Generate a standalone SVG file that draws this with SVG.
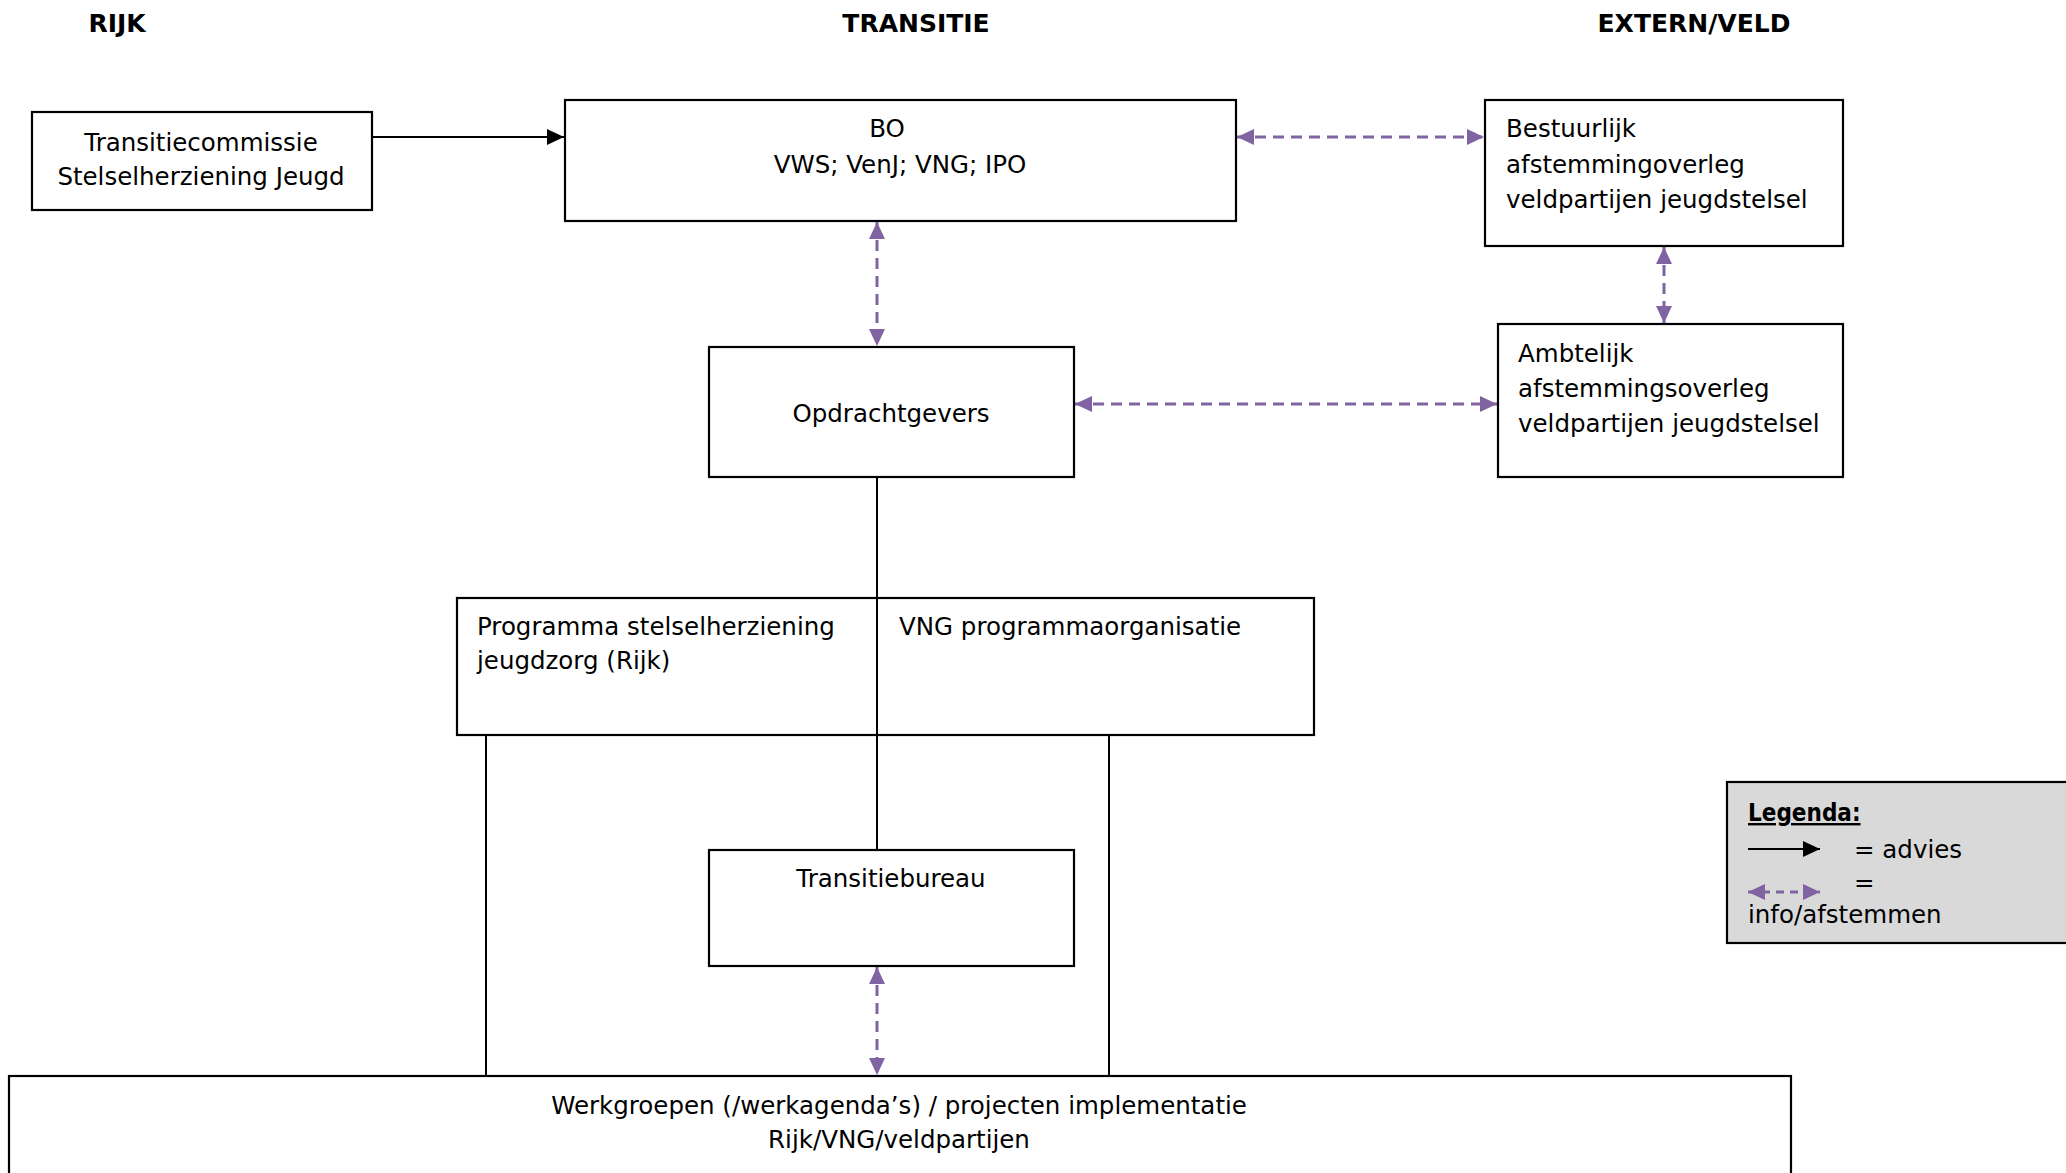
<svg xmlns="http://www.w3.org/2000/svg" width="2066" height="1173" viewBox="0 0 2066 1173">
<style>
.box{fill:#ffffff;stroke:#000000;stroke-width:2.2}
.t{font-family:"DejaVu Sans","Liberation Sans",sans-serif;font-size:24.5px;fill:#000000}
.c{text-anchor:middle}
.h{font-family:"DejaVu Sans","Liberation Sans",sans-serif;font-size:25px;font-weight:bold;fill:#000000;text-anchor:middle}
.solid{stroke:#000000;stroke-width:2;fill:none}
.dash{stroke:#8064a2;stroke-width:3;stroke-dasharray:11 7;fill:none}
</style>
<defs>
<marker id="ab" markerUnits="userSpaceOnUse" markerWidth="18" markerHeight="16" refX="17" refY="8" orient="auto">
<path d="M0,0 L17,8 L0,16 z" fill="#000000"/>
</marker>
<marker id="ap" markerUnits="userSpaceOnUse" markerWidth="18" markerHeight="16" refX="17" refY="8" orient="auto-start-reverse">
<path d="M0,0 L17,8 L0,16 z" fill="#8064a2"/>
</marker>
</defs>
<rect width="2066" height="1173" fill="#ffffff"/>
<g id="headers">
<text class="h" x="117" y="32">RIJK</text>
<text class="h" x="916" y="32">TRANSITIE</text>
<text class="h" x="1694" y="32">EXTERN/VELD</text>
</g>
<g id="connectors">
<line class="solid" x1="372" y1="137" x2="564" y2="137" marker-end="url(#ab)"/>
<line class="dash" x1="1237" y1="137" x2="1484" y2="137" marker-start="url(#ap)" marker-end="url(#ap)"/>
<line class="dash" x1="877" y1="222" x2="877" y2="346" marker-start="url(#ap)" marker-end="url(#ap)"/>
<line class="dash" x1="1664" y1="247" x2="1664" y2="323" marker-start="url(#ap)" marker-end="url(#ap)"/>
<line class="dash" x1="1075" y1="404" x2="1497" y2="404" marker-start="url(#ap)" marker-end="url(#ap)"/>
<line class="solid" x1="877" y1="478" x2="877" y2="849"/>
<line class="solid" x1="486" y1="736" x2="486" y2="1076"/>
<line class="solid" x1="1109" y1="736" x2="1109" y2="1076"/>
<line class="dash" x1="877" y1="967" x2="877" y2="1075" marker-start="url(#ap)" marker-end="url(#ap)"/>
</g>
<g id="transitiecommissie">
<rect class="box" x="32" y="112" width="340" height="98"/>
<text class="t c" x="201" y="151">Transitiecommissie</text>
<text class="t c" x="201" y="185">Stelselherziening Jeugd</text>
</g>
<g id="bo">
<rect class="box" x="565" y="100" width="671" height="121"/>
<text class="t c" x="887" y="137">BO</text>
<text class="t c" x="900" y="173">VWS; VenJ; VNG; IPO</text>
</g>
<g id="bestuurlijk">
<rect class="box" x="1485" y="100" width="358" height="146"/>
<text class="t" x="1506" y="137">Bestuurlijk</text>
<text class="t" x="1506" y="173">afstemmingoverleg</text>
<text class="t" x="1506" y="208">veldpartijen jeugdstelsel</text>
</g>
<g id="ambtelijk">
<rect class="box" x="1498" y="324" width="345" height="153"/>
<text class="t" x="1518" y="362">Ambtelijk</text>
<text class="t" x="1518" y="397">afstemmingsoverleg</text>
<text class="t" x="1518" y="432">veldpartijen jeugdstelsel</text>
</g>
<g id="opdrachtgevers">
<rect class="box" x="709" y="347" width="365" height="130"/>
<text class="t c" x="891" y="422">Opdrachtgevers</text>
</g>
<g id="programma">
<rect class="box" x="457" y="598" width="857" height="137"/>
<line class="solid" x1="877" y1="598" x2="877" y2="735"/>
<text class="t" x="477" y="635">Programma stelselherziening</text>
<text class="t" x="477" y="669">jeugdzorg (Rijk)</text>
<text class="t" x="899" y="635">VNG programmaorganisatie</text>
</g>
<g id="transitiebureau">
<rect class="box" x="709" y="850" width="365" height="116"/>
<text class="t c" x="891" y="887">Transitiebureau</text>
</g>
<g id="werkgroepen">
<rect class="box" x="9" y="1076" width="1782" height="110"/>
<text class="t c" x="899" y="1114">Werkgroepen (/werkagenda’s) / projecten implementatie</text>
<text class="t c" x="899" y="1148">Rijk/VNG/veldpartijen</text>
</g>
<g id="legenda">
<rect x="1727" y="782" width="350" height="161" fill="#d9d9d9" stroke="#000000" stroke-width="2.2"/>
<text x="1748" y="821" font-family="'DejaVu Sans Condensed','DejaVu Sans',sans-serif" font-size="24" font-weight="bold" text-decoration="underline">Legenda:</text>
<line class="solid" x1="1748" y1="849" x2="1820" y2="849" marker-end="url(#ab)"/>
<text class="t" x="1854" y="858">= advies</text>
<text class="t" x="1854" y="891">=</text>
<line stroke="#8064a2" stroke-width="3" stroke-dasharray="8 6" x1="1748" y1="892" x2="1820" y2="892" marker-start="url(#ap)" marker-end="url(#ap)"/>
<text class="t" x="1748" y="923">info/afstemmen</text>
</g>
</svg>
